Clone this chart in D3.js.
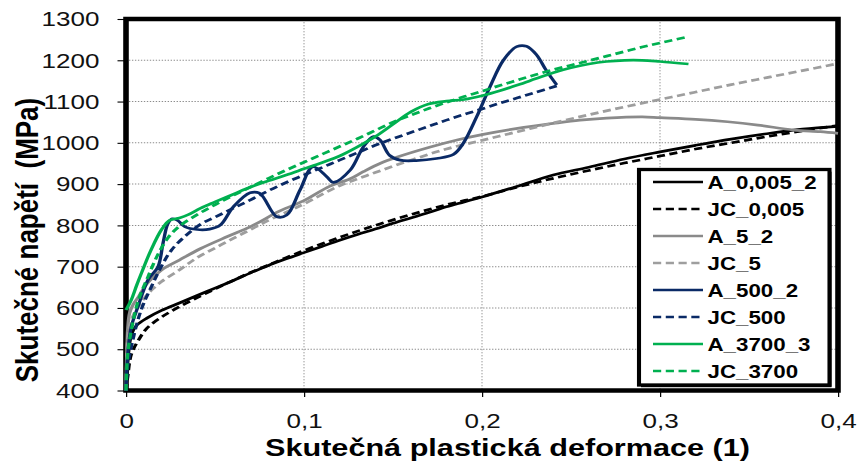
<!DOCTYPE html>
<html>
<head>
<meta charset="utf-8">
<script src="https://cdn.jsdelivr.net/npm/d3@7"></script>
<style>
  html, body { margin: 0; padding: 0; background: #fff; }
  svg { display: block; }
  text { font-family: "Liberation Sans", Arial, sans-serif; }
</style>
</head>
<body>
<svg id="chart" width="858" height="465"></svg>
<script>
// Axis ticks
const xTicks = [0, 0.1, 0.2, 0.3, 0.4];
const yTicks = [400, 500, 600, 700, 800, 900, 1000, 1100, 1200, 1300];

// True stress (MPa) vs. true plastic strain, [strain, stress]
const A_0005_2 = [[0,400],[0.001,470],[0.003,535],[0.006,558],[0.012,576],[0.02,594],[0.03,612],[0.04,630],[0.05,648],[0.06,666],[0.07,685],[0.08,703],[0.09,719],[0.1,734],[0.11,749],[0.12,764],[0.13,778],[0.14,791],[0.15,805],[0.16,818],[0.17,831],[0.18,845],[0.19,857],[0.2,869],[0.22,895],[0.24,922],[0.26,941],[0.28,961],[0.3,978],[0.32,994],[0.34,1009],[0.36,1022],[0.38,1033],[0.4,1040]];
const JC_0005 = [[0,400],[0.001,435],[0.003,488],[0.007,522],[0.012,552],[0.02,578],[0.03,603],[0.04,625],[0.05,646],[0.06,666],[0.07,686],[0.08,704],[0.09,722],[0.1,739],[0.12,771],[0.14,800],[0.16,826],[0.18,850],[0.2,870],[0.22,893],[0.24,914],[0.26,933],[0.28,951],[0.3,968],[0.32,985],[0.34,1000],[0.36,1015],[0.38,1029],[0.4,1042]];
const A_5_2 = [[0,400],[0.0005,500],[0.001,550],[0.002,587],[0.004,608],[0.007,627],[0.012,660],[0.02,692],[0.03,716],[0.042,744],[0.057,773],[0.07,797],[0.0865,835],[0.1,860],[0.1146,895],[0.126,913],[0.1333,930],[0.1427,950],[0.152,965],[0.171,990],[0.186,1007],[0.2,1020],[0.22,1035],[0.24,1047],[0.255,1055],[0.27,1060],[0.29,1063],[0.3,1061],[0.32,1057],[0.338,1051],[0.355,1043],[0.375,1031],[0.39,1027],[0.4,1023]];
const JC_5 = [[0,400],[0.0005,480],[0.001,525],[0.002,556],[0.005,590],[0.01,622],[0.015,646],[0.02,664],[0.03,692],[0.04,722],[0.05,745],[0.06,768],[0.07,790],[0.08,812],[0.09,832],[0.1,852],[0.12,896],[0.14,928],[0.16,958],[0.18,985],[0.2,1006],[0.22,1027],[0.24,1048],[0.26,1068],[0.28,1087],[0.3,1105],[0.32,1123],[0.34,1141],[0.36,1158],[0.38,1175],[0.4,1192]];
const A_500_2 = [[0,400],[0.0012,498],[0.003,555],[0.0067,603],[0.0124,668],[0.018,700],[0.0208,757],[0.0236,805],[0.026,816],[0.029,812],[0.033,797],[0.04,790],[0.047,791],[0.053,801],[0.0603,845],[0.0697,879],[0.075,878],[0.0847,821],[0.0903,825],[0.0978,886],[0.105,942],[0.1128,918],[0.1165,904],[0.126,934],[0.1333,990],[0.139,1015],[0.1427,1007],[0.148,970],[0.154,958],[0.163,957],[0.1745,962],[0.184,972],[0.1895,999],[0.197,1063],[0.2045,1136],[0.212,1200],[0.2195,1233],[0.225,1234],[0.2307,1213],[0.236,1176],[0.242,1140]];
const JC_500 = [[0,400],[0.001,460],[0.003,506],[0.0067,571],[0.01,612],[0.0142,651],[0.0198,700],[0.0255,740],[0.033,773],[0.042,803],[0.05,820],[0.06,841],[0.07,862],[0.08,884],[0.09,904],[0.1,922],[0.11,940],[0.12,958],[0.13,976],[0.14,994],[0.15,1010],[0.16,1025],[0.17,1040],[0.18,1055],[0.19,1069],[0.2,1082],[0.21,1096],[0.22,1109],[0.23,1122],[0.242,1138]];
const A_3700_3 = [[0,595],[0.003,620],[0.006,655],[0.009,688],[0.014,740],[0.02,790],[0.0245,812],[0.03,818],[0.035,826],[0.042,842],[0.05,857],[0.06,875],[0.07,893],[0.08,908],[0.09,922],[0.1,937],[0.11,952],[0.12,968],[0.13,990],[0.14,1015],[0.15,1045],[0.16,1075],[0.17,1094],[0.18,1101],[0.19,1105],[0.2,1114],[0.21,1126],[0.22,1140],[0.23,1155],[0.24,1170],[0.25,1182],[0.26,1191],[0.27,1197],[0.28,1200],[0.29,1200],[0.3,1197],[0.316,1191]];
const JC_3700 = [[0,400],[0.001,490],[0.003,546],[0.0067,615],[0.0124,676],[0.018,730],[0.0236,770],[0.03,798],[0.04,826],[0.05,850],[0.06,872],[0.07,893],[0.08,914],[0.09,934],[0.1,953],[0.11,972],[0.12,991],[0.13,1010],[0.14,1030],[0.15,1050],[0.16,1067],[0.17,1083],[0.18,1098],[0.19,1112],[0.2,1125],[0.21,1139],[0.22,1152],[0.23,1165],[0.24,1177],[0.25,1188],[0.26,1199],[0.27,1210],[0.28,1221],[0.29,1232],[0.3,1242],[0.316,1257]];

const seriesNames = ["A_0,005_2", "JC_0,005", "A_5_2", "JC_5", "A_500_2", "JC_500", "A_3700_3", "JC_3700"];
const seriesData = [A_0005_2, JC_0005, A_5_2, JC_5, A_500_2, JC_500, A_3700_3, JC_3700];
const seriesColors = ["#000000", "#000000", "#8a8a8a", "#9e9e9e", "#0a2a66", "#0a2a66", "#00b050", "#00b050"];
const seriesDashed = [false, true, false, true, false, true, false, true];

const xTitle = "Skutečná plastická deformace (1)";
const yTitle = "Skutečné napětí\u00a0\u00a0(MPa)";

// Horizontally widened drawing (wide aspect of the figure)
const S = 1.24;
const W = 858, H = 465;
const svg = d3.select("#chart");
svg.append("rect").attr("width", W).attr("height", H).attr("fill", "#fff");
const g = svg.append("g").attr("transform", `scale(${S},1)`);

const x = d3.scaleLinear().domain([0, 0.4]).range([126 / S, 838 / S]);
const y = d3.scaleLinear().domain([400, 1300]).range([390.5, 19]);

// Dotted grid
const grid = g.append("g").attr("stroke", "#8c8c8c").attr("fill", "none");
grid.selectAll("line.h").data(yTicks.filter(v => v > 400 && v < 1300)).join("line")
  .attr("class", "h")
  .attr("x1", x(0)).attr("x2", x(0.4))
  .attr("y1", d => y(d)).attr("y2", d => y(d))
  .attr("stroke-width", 1).attr("stroke-dasharray", "1.1,1.3");
grid.selectAll("line.v").data(xTicks.filter(v => v > 0 && v < 0.4)).join("line")
  .attr("class", "v")
  .attr("x1", d => x(d)).attr("x2", d => x(d))
  .attr("y1", y(1300)).attr("y2", y(400))
  .attr("stroke-width", 1 / S).attr("stroke-dasharray", "1.4,1.6");

// Axes
const yAxis = d3.axisLeft(y).tickValues(yTicks).tickSize(8.5 / S).tickPadding(18 / S).tickFormat(d => String(d));
const gy = g.append("g").attr("transform", `translate(${x(0)},0)`).call(yAxis);
const xAxis = d3.axisBottom(x).tickValues(xTicks).tickSize(6.5).tickPadding(16)
  .tickFormat(d => d === 0 ? "0" : d3.format(".1f")(d).replace(".", ","));
const gx = g.append("g").attr("transform", `translate(0,${y(400)})`).call(xAxis);
[gx, gy].forEach(a => {
  a.select(".domain").remove();
  a.selectAll("text").attr("font-family", "'Liberation Sans', Arial, sans-serif")
    .attr("font-size", 21).attr("fill", "#111");
});
gy.selectAll(".tick line").attr("stroke", "#000").attr("stroke-width", 1.1);
gx.selectAll(".tick line").attr("stroke", "#000").attr("stroke-width", 1.2 / S);

// Plot frame
g.append("rect")
  .attr("x", x(0)).attr("y", y(1300))
  .attr("width", x(0.4) - x(0)).attr("height", y(400) - y(1300))
  .attr("fill", "none").attr("stroke", "#000").attr("stroke-width", 4.5);

// Curves
const line = d3.line().x(d => x(d[0])).y(d => y(d[1])).curve(d3.curveCatmullRom.alpha(0.5));
const dash = "6.6,3.7";
g.append("g").selectAll("path").data(seriesData).join("path")
  .attr("d", d => line(d))
  .attr("fill", "none")
  .attr("stroke", (d, i) => seriesColors[i])
  .attr("stroke-width", 2.7)
  .attr("stroke-linejoin", "round")
  .attr("stroke-dasharray", (d, i) => seriesDashed[i] ? dash : null);

// Legend
const lg = g.append("g");
const lx = 639 / S, ly = 169.5, lw = 190.5 / S, lh = 215.5;
lg.append("rect").attr("x", lx + 2 / S).attr("y", ly + 2.2).attr("width", lw).attr("height", lh).attr("fill", "#000");
lg.append("rect").attr("x", lx).attr("y", ly).attr("width", lw).attr("height", lh)
  .attr("fill", "#fff").attr("stroke", "#000").attr("stroke-width", 3.3);
const rows = lg.selectAll("g.item").data(seriesNames).join("g")
  .attr("class", "item")
  .attr("transform", (d, i) => `translate(0,${182 + i * 27})`);
rows.append("line")
  .attr("x1", 653 / S).attr("x2", 703 / S).attr("y1", 0).attr("y2", 0)
  .attr("stroke", (d, i) => seriesColors[i]).attr("stroke-width", 2.7)
  .attr("stroke-dasharray", (d, i) => seriesDashed[i] ? dash : null);
rows.append("text")
  .attr("x", 707.5 / S).attr("y", 6.6)
  .attr("font-size", 18).attr("font-weight", "bold").attr("fill", "#000")
  .text(d => d);

// Axis titles
g.append("text")
  .attr("x", 507.5 / S).attr("y", 456)
  .attr("text-anchor", "middle").attr("font-size", 24.7).attr("font-weight", "bold").attr("fill", "#000")
  .text(xTitle);
g.append("text")
  .attr("transform", `translate(${38 / S},240) rotate(-90)`)
  .attr("text-anchor", "middle").attr("font-size", 26).attr("font-weight", "bold").attr("fill", "#000")
  .text(yTitle);
</script>
</body>
</html>
